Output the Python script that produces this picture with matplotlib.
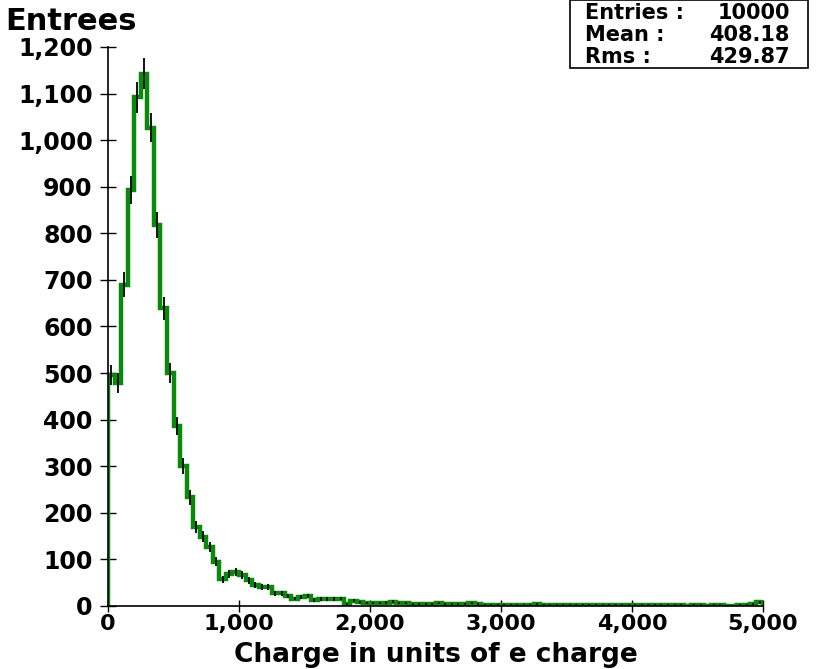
import matplotlib
matplotlib.use("Agg")
import matplotlib.pyplot as plt
from matplotlib.patches import Rectangle
import numpy as np

# Histogram of charge (100 bins, 0 - 5000)
x_min, x_max, n_bins = 0, 5000, 100
counts = np.array([
    496, 479, 690, 893, 1092, 1143, 1027, 818, 639, 500,
    387, 300, 233, 170, 149, 127, 95, 57, 69, 74,
    67, 55, 45, 41, 41, 27, 27, 22, 16, 20,
    21, 13, 15, 15, 15, 16, 4, 11, 8, 6,
    6, 6, 7, 9, 6, 6, 4, 5, 5, 5,
    6, 4, 4, 4, 5, 6, 4, 3, 3, 3,
    3, 3, 2, 3, 3, 4, 3, 3, 3, 3,
    3, 2, 3, 2, 2, 2, 2, 2, 2, 2,
    2, 2, 2, 2, 2, 2, 2, 2, 1, 2,
    2, 1, 2, 2, 1, 1, 2, 2, 4, 8,
])
y_ticks = [0, 100, 200, 300, 400, 500, 600, 700, 800, 900, 1000, 1100, 1200]
x_ticks = [0, 1000, 2000, 3000, 4000, 5000]
stat_labels = ["Entries :", "Mean :", "Rms :"]
stat_values = ["10000", "408.18", "429.87"]

edges = np.linspace(x_min, x_max, n_bins + 1)
centers = 0.5 * (edges[:-1] + edges[1:])

plt.rcParams['font.family'] = ['DejaVu Sans']
plt.rcParams['font.weight'] = 'bold'

fig = plt.figure(figsize=(8.17, 6.69), dpi=100)
ax = fig.add_axes([0.1322, 0.0942, 0.8017, 0.8356])

ax.stairs(counts, edges, color='#0a8a0a', linewidth=3.2, zorder=2)
ax.errorbar(centers, counts, yerr=np.sqrt(counts), fmt='none',
            ecolor='black', elinewidth=1.3, capsize=0, zorder=3)

ax.set_xlim(x_min, x_max)
ax.set_ylim(0, 1200)
ax.set_xticks(x_ticks)
ax.set_yticks(y_ticks)
ax.xaxis.set_major_formatter(matplotlib.ticker.StrMethodFormatter('{x:,.0f}'))
ax.yaxis.set_major_formatter(matplotlib.ticker.StrMethodFormatter('{x:,.0f}'))
ax.tick_params(axis='y', direction='inout', length=11, width=1, labelsize=17, pad=5.5)
ax.tick_params(axis='x', direction='inout', length=8, width=1, labelsize=16, pad=1.5)
for lab in ax.get_xticklabels() + ax.get_yticklabels():
    lab.set_fontweight('bold')

for side in ['top', 'right']:
    ax.spines[side].set_visible(False)
for side in ['left', 'bottom']:
    ax.spines[side].set_linewidth(1.2)

ax.set_xlabel('Charge in units of e charge', fontsize=19, fontweight='bold')
ax.xaxis.set_label_coords(0.5, -0.1)
ax.xaxis.label.set_va('baseline')
fig.text(0.006, 0.99, 'Entrees', fontsize=22, fontweight='bold', ha='left', va='top')

# Stats box
fig.patches.append(Rectangle((570 / 817, 1 - 68 / 669), 238 / 817, 68 / 669,
                             transform=fig.transFigure, fill=False,
                             edgecolor='black', linewidth=1.2))
for i, (lab, val) in enumerate(zip(stat_labels, stat_values)):
    y = 1 - (13 + 22 * i) / 669
    fig.text(585 / 817, y, lab, fontsize=15, fontweight='bold', ha='left', va='center')
    fig.text(790 / 817, y, val, fontsize=15, fontweight='bold', ha='right', va='center')

fig.savefig('out.png', dpi=100)
